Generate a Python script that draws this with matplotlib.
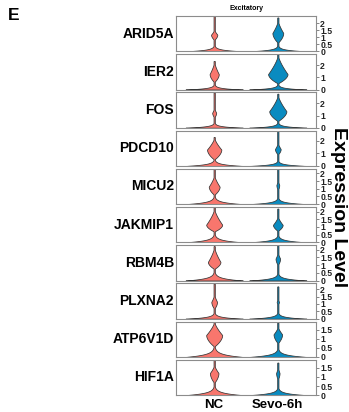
import numpy as np
import matplotlib
matplotlib.use("Agg")
import matplotlib.pyplot as plt

plt.rcParams['font.family'] = ['Liberation Sans', 'DejaVu Sans']

genes = ["ARID5A", "IER2", "FOS", "PDCD10", "MICU2", "JAKMIP1", "RBM4B", "PLXNA2", "ATP6V1D", "HIF1A"]
groups = ["NC", "Sevo-6h"]
y_max = [2.5, 2.9, 2.9, 2.8, 2.3, 2.3, 2.3, 2.4, 1.95, 1.95]
y_ticks = [[0, 0.5, 1, 1.5, 2], [0, 1, 2], [0, 1, 2], [0, 1, 2], [0, 0.5, 1, 1.5, 2],
           [0, 0.5, 1, 1.5, 2], [0, 0.5, 1, 1.5, 2], [0, 0.5, 1, 1.5, 2], [0, 0.5, 1, 1.5], [0, 0.5, 1, 1.5]]

# violin features (expression units; width relative to max)
nc_top   = [2.5, 2.35, 2.9, 2.3, 2.3, 2.3, 2.25, 2.4, 1.95, 1.95]
nc_low   = [0.8, 0.6, 0.84, 0.5, 0.6, 0.7, 0.75, 0.67, 0.57, 0.67]
nc_ctr   = [1.18, 1.27, 1.23, 1.3, 1.14, 1.15, 1.21, 1.15, 1.21, 1.22]
nc_high  = [1.55, 2.3, 1.66, 2.25, 1.9, 2.2, 2.2, 1.67, 1.95, 1.68]
nc_width = [0.11, 0.16, 0.07, 0.25, 0.19, 0.28, 0.22, 0.10, 0.28, 0.15]
nc_base  = [0.32, 0.32, 0.32, 0.4, 0.4, 0.42, 0.45, 0.32, 0.45, 0.4]

sv_top   = [2.4, 2.9, 2.8, 2.8, 2.3, 2.2, 2.3, 2.2, 1.9, 1.8]
sv_low   = [0.6, 0.5, 0.54, 0.9, 0.9, 0.74, 1.0, 0.95, 0.75, 0.85]
sv_ctr   = [1.3, 1.27, 1.36, 1.34, 1.25, 1.14, 1.43, 1.15, 1.25, 1.22]
sv_high  = [2.2, 2.85, 2.7, 1.85, 1.6, 1.7, 1.85, 1.4, 1.68, 1.6]
sv_width = [0.19, 0.34, 0.30, 0.10, 0.05, 0.17, 0.08, 0.04, 0.15, 0.06]
sv_base  = [0.32, 0.32, 0.32, 0.32, 0.32, 0.36, 0.36, 0.32, 0.36, 0.32]

colors = ["#F8766D", "#0A8BC0"]


def profile(top, lo, ctr, hi, w, base):
    y = np.linspace(0, top, 500)
    b = np.exp(-y / (base / 3.2))
    neck = np.full_like(y, 0.022)
    bulb = np.zeros_like(y)
    m1 = (y >= lo) & (y <= ctr)
    t = (ctr - y[m1]) / (ctr - lo)
    bulb[m1] = w * (1 - t ** 1.8)
    m2 = (y > ctr) & (y <= hi)
    t = (y[m2] - ctr) / (hi - ctr)
    bulb[m2] = w * (1 - t) ** 1.4
    wv = np.maximum.reduce([b, neck, bulb])
    k = np.exp(-0.5 * (np.arange(-8, 9) / 3.0) ** 2)
    k /= k.sum()
    pad = np.concatenate([np.full(8, wv[0]), wv, np.full(8, 0.0)])
    wv = np.convolve(pad, k, mode="valid")
    wv[0] = 1.0
    wv[-1] = 0.0
    return y, wv


W, H = 349, 412
fig = plt.figure(figsize=(W / 100, H / 100), dpi=100)

left, right = 176, 316
top0, step, ph = 16, 38.2, 35.3
half = 0.45

for i, g in enumerate(genes):
    ytop = top0 + i * step
    ax = fig.add_axes([left / W, 1 - (ytop + ph) / H, (right - left) / W, ph / H])
    feats = [
        (nc_top[i], nc_low[i], nc_ctr[i], nc_high[i], nc_width[i], nc_base[i]),
        (sv_top[i], sv_low[i], sv_ctr[i], sv_high[i], sv_width[i], sv_base[i]),
    ]
    for j, f in enumerate(feats):
        y, wv = profile(*f)
        pos = j + 1
        ax.fill_betweenx(y, pos - half * wv, pos + half * wv, facecolor=colors[j],
                         edgecolor="#333333", linewidth=0.55)
    ax.set_xlim(0.4, 2.6)
    ax.set_ylim(0, y_max[i])
    ax.yaxis.tick_right()
    ax.set_yticks(y_ticks[i])
    ax.set_yticklabels([("%g" % v) for v in y_ticks[i]], fontsize=6.2, fontweight="bold",
                       color="#222222")
    ax.tick_params(axis="y", length=2, width=0.5, color="#555555", pad=1)
    for s in ax.spines.values():
        s.set_color("#8c8c8c")
        s.set_linewidth(0.8)
    if i == len(genes) - 1:
        ax.set_xticks([1, 2])
        ax.set_xticklabels(groups, fontsize=9.5, fontweight="bold")
        ax.tick_params(axis="x", length=0, pad=3)
    else:
        ax.set_xticks([])
    fig.text(174 / W, 1 - (ytop + ph / 2) / H, g, ha="right", va="center",
             fontsize=10, fontweight="bold")

fig.text(246 / W, 1 - 8 / H, "Excitatory", ha="center", va="center", fontsize=5, fontweight="bold")
fig.text(8 / W, 1 - 16 / H, "E", ha="left", va="center", fontsize=12.5, fontweight="bold")
fig.text(339 / W, 1 - 207 / H, "Expression Level", ha="center", va="center",
         rotation=-90, fontsize=14, fontweight="bold")

fig.savefig("out.png", dpi=100)
